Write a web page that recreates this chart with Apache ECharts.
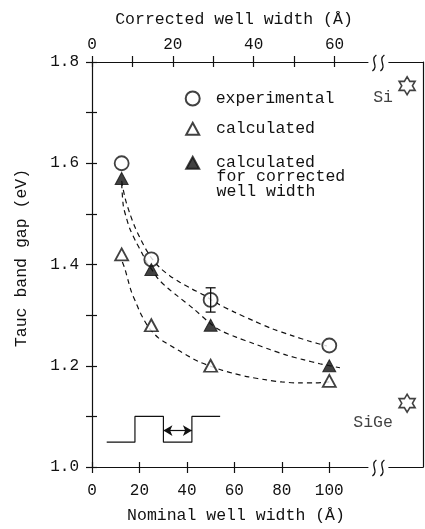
<!DOCTYPE html>
<html><head><meta charset="utf-8">
<script src="https://cdn.jsdelivr.net/npm/echarts@6/dist/echarts.min.js"></script>
<style>html,body{margin:0;padding:0;background:#fff}#c{width:425px;height:529px}</style>
</head><body><div id="c"></div>
<script>
// ---- data ----
const nominalWidth = [12.5, 25, 50, 100];
const experimental = [1.60, 1.41, 1.33, 1.24];
const experimentalErr = [0, 0, 0.024, 0];
const calculated = [1.42, 1.28, 1.20, 1.17];
const calculatedCorrected = [1.57, 1.39, 1.28, 1.20];

const expCurveX = [12.5, 14, 16, 18, 20.5, 23, 25.5, 29, 33, 37, 42, 47, 52, 60, 68, 76, 84, 92, 99];
const expCurveY = [1.565, 1.530, 1.500, 1.475, 1.450, 1.428, 1.410, 1.392, 1.377, 1.365, 1.352, 1.340, 1.325, 1.306, 1.289, 1.273, 1.260, 1.248, 1.239];
const corrCurveX = [12.5, 13.2, 14.5, 16, 18.5, 20.9, 23, 25.5, 28, 32, 35.7, 42.7, 50, 54, 61, 68, 75, 82, 89, 96, 104.5];
const corrCurveY = [1.560, 1.516, 1.492, 1.470, 1.445, 1.424, 1.405, 1.388, 1.371, 1.353, 1.339, 1.313, 1.283, 1.270, 1.256, 1.244, 1.232, 1.221, 1.212, 1.204, 1.196];
const calcCurveX = [12.8, 13.9, 15.3, 16.7, 18.5, 20.2, 22, 24, 26, 28, 30.5, 33, 37, 41, 45, 50, 55, 59.5, 66, 73.6, 80, 87.7, 94, 100];
const calcCurveY = [1.405, 1.391, 1.367, 1.345, 1.325, 1.306, 1.290, 1.275, 1.264, 1.255, 1.247, 1.240, 1.229, 1.218, 1.208, 1.199, 1.191, 1.185, 1.178, 1.172, 1.168, 1.166, 1.166, 1.168];

const starX = [132.8, 132.8];
const starY = [1.753, 1.126];
const starNames = ['Si', 'SiGe'];

const profileX = [6.2, 18.1, 18.1, 30.1, 30.1, 42.1, 42.1, 54.0];
const profileY = [1.049, 1.049, 1.10, 1.10, 1.049, 1.049, 1.10, 1.10];
const arrowX = [30.1, 42.1];
const arrowY = [1.072, 1.072];

const bottomTicks = [0, 20, 40, 60, 80, 100];
const topTicks = [0, 10, 20, 30, 40, 50, 60];
const topLabels = [0, 20, 40, 60];
const yLabels = [1.0, 1.2, 1.4, 1.6, 1.8];

const legendLabels = ['experimental', 'calculated', 'calculated'];
const legendExtra = 'for corrected\nwell width';

// ---- chart ----
const FONT = 'Liberation Mono';
const INK = '#111';
const chart = echarts.init(document.getElementById('c'), null, {renderer: 'canvas'});
const zip = (xs, ys) => xs.map((x, i) => [x, ys[i]]);
const BMAX = 139.5, TMAX = 81.9;

const lineAx = {show: true, onZero: false, lineStyle: {color: INK, width: 1.2}};
const tickStyle = {color: INK, width: 1.2};
const labStyle = {fontFamily: FONT, fontSize: 16, color: INK};

const starOffsets = {Si: [-24, 12], SiGe: [-34, 19]};
const starPath = 'path://M10 0 L12.89 5 L18.66 5 L15.77 10 L18.66 15 L12.89 15 L10 20 L7.11 15 L1.34 15 L4.23 10 L1.34 5 L7.11 5 Z';

const curveStyle = {color: INK, width: 1.2, type: [5, 4]};
const seriesNames = ['experimental', 'calculated', 'calculated for corrected well width'];
const legTxt = {fontFamily: FONT, fontSize: 16.5, color: INK, lineHeight: 16};

const option = {
  animation: false,
  backgroundColor: '#fff',
  textStyle: {fontFamily: FONT, color: INK},
  grid: {left: 92, right: 2, top: 62, bottom: 60, containLabel: false},
  legend: [
    {data: [seriesNames[0]], left: 184.7, top: 90, orient: 'vertical', padding: 0,
     itemWidth: 14, itemHeight: 14, selectedMode: false, formatter: () => legendLabels[0],
     textStyle: Object.assign({padding: [0, 0, 0, 11]}, legTxt)},
    {data: [seriesNames[1]], left: 185.2, top: 120.3, orient: 'vertical', padding: 0,
     itemWidth: 13, itemHeight: 12, selectedMode: false, formatter: () => legendLabels[1],
     textStyle: Object.assign({padding: [0, 0, 0, 11.8]}, legTxt)},
    {data: [seriesNames[2]], left: 185.2, top: 154.3, orient: 'vertical', padding: 0,
     itemWidth: 13, itemHeight: 12, selectedMode: false, formatter: () => legendLabels[2],
     textStyle: Object.assign({padding: [0, 0, 0, 11.8]}, legTxt)}
  ],
  xAxis: [
    {type: 'value', position: 'bottom', min: 0, max: BMAX, interval: 20,
     axisLine: lineAx,
     axisTick: {show: true, inside: false, length: 6, customValues: bottomTicks, lineStyle: tickStyle},
     axisLabel: Object.assign({customValues: bottomTicks, margin: 16}, labStyle),
     splitLine: {show: false},
     name: 'Nominal well width (Å)', nameLocation: 'middle', nameGap: 40,
     nameTextStyle: {fontFamily: FONT, fontSize: 16.5, color: INK, padding: [0, 43, 0, 0]}},
    {type: 'value', position: 'bottom', min: 0, max: BMAX, interval: 20,
     axisLine: {show: false, onZero: false},
     axisTick: {show: true, inside: true, length: 5, customValues: bottomTicks, lineStyle: tickStyle},
     axisLabel: {show: false}, splitLine: {show: false}},
    {type: 'value', position: 'top', min: 0, max: TMAX, interval: 10,
     axisLine: lineAx,
     axisTick: {show: true, inside: false, length: 6, customValues: topTicks, lineStyle: tickStyle},
     axisLabel: Object.assign({customValues: topLabels, margin: 9}, labStyle),
     splitLine: {show: false},
     name: 'Corrected well width (Å)', nameLocation: 'middle', nameGap: 34,
     nameTextStyle: {fontFamily: FONT, fontSize: 16.5, color: INK, padding: [0, 47, 0, 0]}},
    {type: 'value', position: 'top', min: 0, max: TMAX, interval: 10,
     axisLine: {show: false, onZero: false},
     axisTick: {show: true, inside: true, length: 5, customValues: topTicks, lineStyle: tickStyle},
     axisLabel: {show: false}, splitLine: {show: false}}
  ],
  yAxis: [
    {type: 'value', position: 'left', min: 1.0, max: 1.8, interval: 0.1,
     axisLine: lineAx,
     axisTick: {show: true, inside: false, length: 6, lineStyle: tickStyle},
     axisLabel: Object.assign({customValues: yLabels, margin: 13, formatter: v => v.toFixed(1)}, labStyle),
     splitLine: {show: false},
     name: 'Tauc band gap (eV)', nameLocation: 'middle', nameGap: 62,
     nameTextStyle: {fontFamily: FONT, fontSize: 16.5, color: INK, padding: [0, 0, 0, 13]}},
    {type: 'value', position: 'left', min: 1.0, max: 1.8, interval: 0.1,
     axisLine: {show: false, onZero: false},
     axisTick: {show: true, inside: true, length: 5, lineStyle: tickStyle},
     axisLabel: {show: false}, splitLine: {show: false}},
    {type: 'value', position: 'right', min: 1.0, max: 1.8, interval: 0.1,
     axisLine: lineAx, axisTick: {show: false}, axisLabel: {show: false}, splitLine: {show: false}}
  ],
  series: [
    {type: 'line', name: 'expCurve', data: zip(expCurveX, expCurveY), smooth: 0.3, showSymbol: false,
     symbol: 'none', silent: true, lineStyle: curveStyle, z: 2},
    {type: 'line', name: 'corrCurve', data: zip(corrCurveX, corrCurveY), smooth: 0.3, showSymbol: false,
     symbol: 'none', silent: true, lineStyle: curveStyle, z: 2},
    {type: 'line', name: 'calcCurve', data: zip(calcCurveX, calcCurveY), smooth: 0.3, showSymbol: false,
     symbol: 'none', silent: true, lineStyle: curveStyle, z: 2},
    {type: 'line', name: 'profile', data: zip(profileX, profileY), symbol: 'none', silent: true,
     lineStyle: {color: INK, width: 1.2}, z: 2,
     markLine: {silent: true, symbol: ['arrow', 'arrow'], symbolSize: [8, 9], label: {show: false},
       lineStyle: {color: INK, width: 1.2, type: 'solid'},
       data: [[{coord: [arrowX[0], arrowY[0]]}, {coord: [arrowX[1], arrowY[1]]}]]}},
    {type: 'scatter', name: seriesNames[0], data: zip(nominalWidth, experimental),
     symbol: 'circle', symbolSize: 14,
     itemStyle: {color: '#fff', borderColor: INK, borderWidth: 1.8}, z: 3},
    {type: 'custom', name: 'errorbars', silent: true, z: 4,
     data: nominalWidth.map((x, i) => [x, experimental[i] - experimentalErr[i], experimental[i] + experimentalErr[i]])
       .filter((d, i) => experimentalErr[i] > 0),
     renderItem: (params, api) => {
       const x = api.value(0);
       const lo = api.coord([x, api.value(1)]);
       const hi = api.coord([x, api.value(2)]);
       const w = 5, st = {stroke: INK, lineWidth: 1.3};
       return {type: 'group', children: [
         {type: 'line', shape: {x1: lo[0], y1: lo[1], x2: hi[0], y2: hi[1]}, style: st},
         {type: 'line', shape: {x1: lo[0] - w, y1: lo[1], x2: lo[0] + w, y2: lo[1]}, style: st},
         {type: 'line', shape: {x1: hi[0] - w, y1: hi[1], x2: hi[0] + w, y2: hi[1]}, style: st}
       ]};
     }},
    {type: 'scatter', name: seriesNames[1], data: zip(nominalWidth, calculated),
     symbol: 'triangle', symbolSize: [13, 12],
     itemStyle: {color: '#fff', borderColor: INK, borderWidth: 1.8}, z: 5},
    {type: 'scatter', name: seriesNames[2], data: zip(nominalWidth, calculatedCorrected),
     symbol: 'triangle', symbolSize: [13, 12],
     itemStyle: {color: INK, borderColor: INK, borderWidth: 1}, z: 5},
    {type: 'scatter', name: 'stars', silent: true,
     data: starX.map((x, i) => ({name: starNames[i], value: [x, starY[i]],
       label: {offset: starOffsets[starNames[i]]}})),
     symbol: starPath, symbolSize: [16, 18],
     itemStyle: {color: '#fff', borderColor: INK, borderWidth: 1.6},
     label: {show: true, position: 'inside', formatter: '{b}', fontFamily: FONT, fontSize: 16.5, color: INK}, z: 5}
  ]
};
chart.setOption(option);

// axis-break marks on the top and bottom frame lines, and the extra legend lines
const bx = chart.convertToPixel({xAxisIndex: 0}, 120.7);
const yT = chart.convertToPixel({yAxisIndex: 0}, 1.8);
const yB = chart.convertToPixel({yAxisIndex: 0}, 1.0);
const gr = [];
[yT, yB].forEach(yy => {
  gr.push({type: 'rect', z: 100, shape: {x: bx - 10, y: yy - 3, width: 20, height: 6}, style: {fill: '#fff'}});
  [-4, 4].forEach(dx => {
    const cx = bx + dx, cy = yy + 1;
    gr.push({type: 'bezierCurve', z: 101,
      shape: {x1: cx + 2, y1: cy - 8, cpx1: cx - 5, cpy1: cy - 3, cpx2: cx + 5, cpy2: cy + 3, x2: cx - 2, y2: cy + 8},
      style: {stroke: INK, lineWidth: 1.3, fill: null}});
  });
});
gr.push({type: 'text', z: 100, x: 216.5, y: 169.2,
  style: {text: legendExtra, fontFamily: FONT, fontSize: 16.5, lineHeight: 15, fill: INK, verticalAlign: 'top'}});
chart.setOption({graphic: gr});
</script></body></html>
